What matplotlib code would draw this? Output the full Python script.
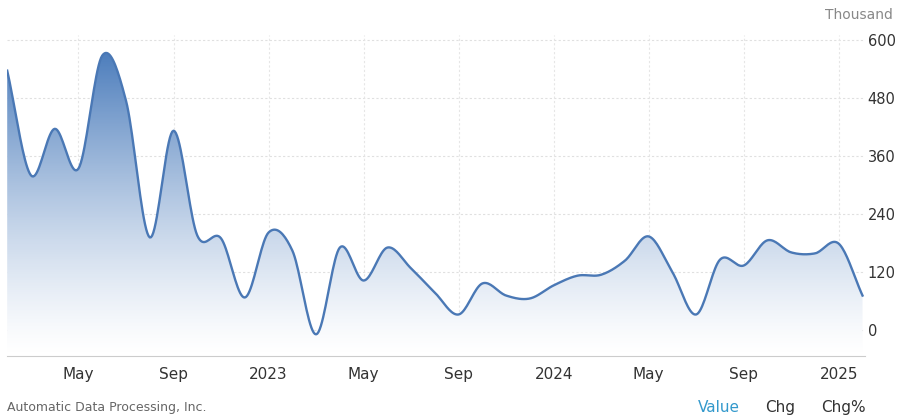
import numpy as np
import matplotlib
matplotlib.use("Agg")
import matplotlib.pyplot as plt
from matplotlib.patches import Polygon

months = np.arange(37)  # Feb 2022 .. Feb 2025
values = [536, 320, 416, 334, 567, 474, 192, 412, 196, 190, 68, 202, 165, -8, 171, 103,
          171, 128, 78, 33, 97, 72, 66, 93, 113, 115, 144, 194, 120, 33, 146, 134, 186,
          161, 159, 179, 72]
tick_pos = [3, 7, 11, 15, 19, 23, 27, 31, 35]
tick_labels = ["May", "Sep", "2023", "May", "Sep", "2024", "May", "Sep", "2025"]
yticks = [0, 120, 240, 360, 480, 600]

def catmull(x, y, n=20):
    x = np.asarray(x, float); y = np.asarray(y, float)
    px = np.concatenate([[2*x[0]-x[1]], x, [2*x[-1]-x[-2]]])
    py = np.concatenate([[2*y[0]-y[1]], y, [2*y[-1]-y[-2]]])
    xs, ys = [], []
    for i in range(1, len(px)-2):
        t = np.linspace(0, 1, n, endpoint=False)
        for P, out in ((px, xs), (py, ys)):
            p0, p1, p2, p3 = P[i-1], P[i], P[i+1], P[i+2]
            out.extend(0.5*((2*p1) + (-p0+p2)*t + (2*p0-5*p1+4*p2-p3)*t**2 + (-p0+3*p1-3*p2+p3)*t**3))
    xs.append(x[-1]); ys.append(y[-1])
    return np.array(xs), np.array(ys)

fig = plt.figure(figsize=(9, 4.19), dpi=100)
ax = fig.add_axes([0.008, 0.15, 0.953, 0.767])
ymin, ymax = -53, 610
xs, ys = catmull(months, values)
ax.set_xlim(0, 36.1); ax.set_ylim(ymin, ymax)

cmap = matplotlib.colors.LinearSegmentedColormap.from_list("g", ["#ffffff", "#4f7fbd"])
grad = np.linspace(0, 1, 256).reshape(-1, 1)
im = ax.imshow(grad**1.3, extent=[0, 36.1, ymin, 570], origin="lower", aspect="auto", cmap=cmap, zorder=1)
poly = Polygon(np.column_stack([np.r_[xs, xs[-1], xs[0]], np.r_[ys, ymin, ymin]]), closed=True,
               facecolor="none", edgecolor="none")
ax.add_patch(poly)
im.set_clip_path(poly)
ax.plot(xs, ys, color="#4a78b5", lw=1.7, zorder=3)

for yv in yticks:
    ax.axhline(yv, color="#e0e0e0", lw=0.8, ls=(0, (2, 2)), zorder=0)
for xv in tick_pos:
    ax.axvline(xv, color="#e6e6e6", lw=0.8, ls=(0, (2, 2)), zorder=0)

ax.yaxis.tick_right()
ax.set_yticks(yticks)
ax.set_yticklabels([str(v) for v in yticks], fontsize=10.5, color="#333333")
ax.set_xticks(tick_pos)
ax.set_xticklabels(tick_labels, fontsize=11, color="#333333")
ax.tick_params(axis="x", length=0, pad=8)
ax.tick_params(axis="y", length=0, pad=2)
for s in ["top", "left", "right"]:
    ax.spines[s].set_visible(False)
ax.spines["bottom"].set_color("#cccccc")

fig.text(0.992, 0.965, "Thousand", ha="right", va="center", fontsize=10, color="#888888")
fig.text(0.008, 0.027, "Automatic Data Processing, Inc.", ha="left", va="center", fontsize=9, color="#666666")
fig.text(0.775, 0.027, "Value", ha="left", va="center", fontsize=11, color="#3399cc")
fig.text(0.850, 0.027, "Chg", ha="left", va="center", fontsize=11, color="#333333")
fig.text(0.912, 0.027, "Chg%", ha="left", va="center", fontsize=11, color="#333333")
fig.savefig("out.png", dpi=100)
